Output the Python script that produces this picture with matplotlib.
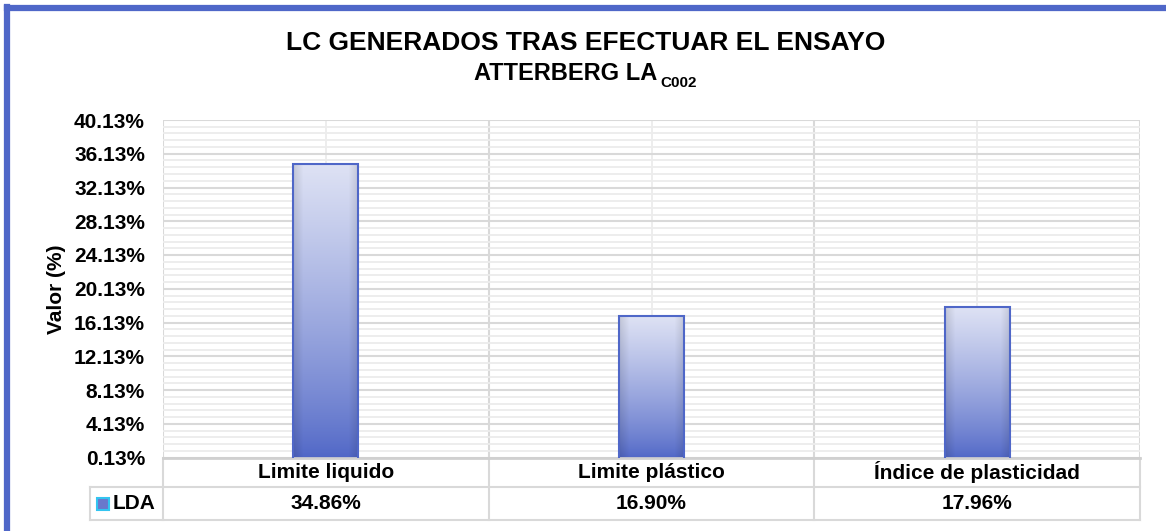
import numpy as np
import matplotlib
matplotlib.use('Agg')
import matplotlib.pyplot as plt
from matplotlib.lines import Line2D
import matplotlib.transforms as mtransforms

plt.rcParams['font.family'] = ['Liberation Sans', 'DejaVu Sans']
plt.rcParams['font.weight'] = 'bold'

# Datos
categorias = ['Limite liquido', 'Limite plástico', 'Índice de plasticidad']
valores_lda = [34.86, 16.90, 17.96]
serie = 'LDA'
y_min, y_max, y_paso = 0.13, 40.13, 4
titulo_1 = 'LC GENERADOS TRAS EFECTUAR EL ENSAYO'
titulo_2 = 'ATTERBERG LA'
subindice = 'C002'
etiqueta_y = 'Valor (%)'

W, H = 1166, 531
fig = plt.figure(figsize=(W / 100, H / 100), dpi=100)
fig.patch.set_facecolor('white')

# marco azul (izquierda y arriba)
azul = '#4F67C8'
fig.add_artist(Line2D([7 / W, 7 / W], [0, 1 - 7 / H], color=azul, lw=4.5, transform=fig.transFigure))
fig.add_artist(Line2D([7 / W, 1], [1 - 8 / H, 1 - 8 / H], color=azul, lw=4.5, transform=fig.transFigure))

x0, x1, ytop, ybot = 163, 1140, 120, 457.5
ax = fig.add_axes([x0 / W, 1 - ybot / H, (x1 - x0) / W, (ybot - ytop) / H])
ax.set_xlim(-0.5, len(categorias) - 0.5)
ax.set_ylim(y_min, y_max)

# rejilla
yt = np.arange(y_min, y_max + 0.01, y_paso)
ax.set_yticks(yt)
ax.set_yticklabels([f'{v:.2f}%' for v in yt], fontsize=15, fontweight='bold')
ax.set_yticks(np.arange(y_min, y_max, 0.8), minor=True)
ax.set_xticks(np.arange(-0.5, len(categorias), 1))
ax.set_xticklabels([])
ax.set_xticks(np.arange(len(categorias)), minor=True)
ax.tick_params(axis='both', which='both', length=0)
ax.tick_params(axis='y', pad=13)
ax.grid(True, which='major', color='#D9D9D9', lw=1.5)
ax.grid(True, which='minor', color='#ECECEC', lw=1.3)
ax.set_axisbelow(True)
for s in ['top', 'right', 'left']:
    ax.spines[s].set_visible(False)
ax.spines['bottom'].set_color('#D0D0D0')
ax.spines['bottom'].set_linewidth(2)

ax.set_ylabel(etiqueta_y, fontsize=15, fontweight='bold')
ax.yaxis.set_label_coords(-0.099, 0.5)

# barras con degradado
claro = np.array([222, 226, 244]) / 255
oscuro = np.array([78, 101, 198]) / 255
t = np.linspace(0, 1, 200)[:, None]
xs = np.linspace(-1, 1, 60)[None, :]
borde = 1 - 0.12 * np.clip((np.abs(xs) - 0.7) / 0.3, 0, 1)
grad = (oscuro[None, None, :] + (claro - oscuro)[None, None, :] * t[..., None] ** 0.8) * borde[..., None]
ancho = 0.2
barras = ax.bar(range(len(categorias)), valores_lda, width=ancho, color='none',
                edgecolor=azul, lw=1.5, zorder=3)
for b in barras:
    im = ax.imshow(grad, origin='lower', aspect='auto', zorder=2.5,
                   extent=[b.get_x(), b.get_x() + b.get_width(), 0, b.get_height()])
    im.set_clip_path(b)

# tabla de datos
tr = mtransforms.blended_transform_factory(ax.transData, ax.transAxes)
px = (len(categorias)) / (x1 - x0)
alto = ybot - ytop
f1 = -(487 - ybot) / alto
f2 = -(520 - ybot) / alto
xleg = -0.5 - (163 - 90) * px
gris = '#D9D9D9'
kw = dict(color=gris, lw=1.5, transform=tr, clip_on=False)
ax.plot([xleg, 2.5], [f1, f1], **kw)
ax.plot([xleg, 2.5], [f2, f2], **kw)
ax.plot([xleg, xleg], [f1, f2], **kw)
for xv in np.arange(-0.5, len(categorias), 1):
    ax.plot([xv, xv], [0, f2], **kw)
for i, (c, v) in enumerate(zip(categorias, valores_lda)):
    ax.text(i, f1 / 2, c, transform=tr, ha='center', va='center', fontsize=15, fontweight='bold')
    ax.text(i, (f1 + f2) / 2, f'{v:.2f}%', transform=tr, ha='center', va='center',
            fontsize=15, fontweight='bold')
ax.plot([-0.5 - 60.5 * px], [(f1 + f2) / 2], marker='s', ms=8, mfc='#6A78CC', mec='#33C4F0',
        mew=1.5, transform=tr, clip_on=False)
ax.text(-0.5 - 50 * px, (f1 + f2) / 2, serie, transform=tr, ha='left', va='center',
        fontsize=15, fontweight='bold')

# título
fig.text(586 / W, 1 - 43 / H, titulo_1, ha='center', va='center', fontsize=19, fontweight='bold')
t2 = fig.text(566 / W, 1 - 74 / H, titulo_2, ha='center', va='center', fontsize=17, fontweight='bold')
ax.annotate(subindice, xy=(1, 0), xycoords=t2, xytext=(2, -3), textcoords='offset points',
            ha='left', va='bottom', fontsize=11, fontweight='bold')

plt.savefig('out.png', dpi=100)
